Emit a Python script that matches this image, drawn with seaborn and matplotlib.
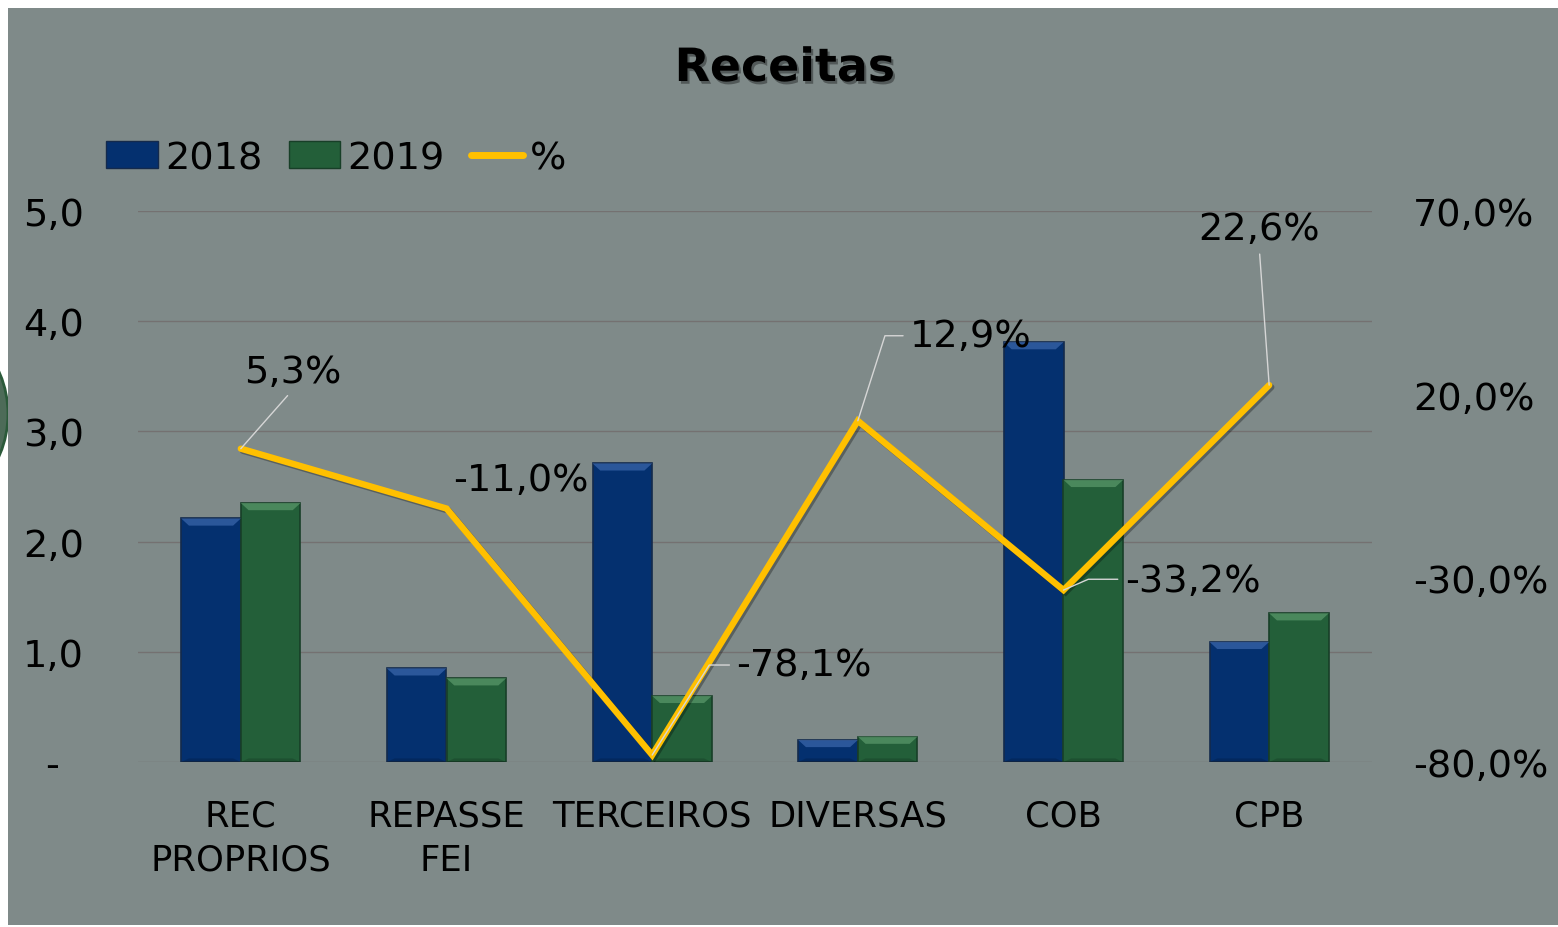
import numpy as np
import pandas as pd
import matplotlib
matplotlib.use("Agg")
import matplotlib.pyplot as plt
import matplotlib.patheffects as pe
from matplotlib.patches import Patch, Polygon, Rectangle, Circle
from matplotlib.lines import Line2D
import seaborn as sns

# chart data
categories = ["REC\nPROPRIOS", "REPASSE\nFEI", "TERCEIROS", "DIVERSAS", "COB", "CPB"]
years = ["2018", "2019"]
values_2018 = [2.21, 0.85, 2.71, 0.20, 3.81, 1.09]
values_2019 = [2.35, 0.76, 0.60, 0.23, 2.56, 1.35]
pct_change = [5.3, -11.0, -78.1, 12.9, -33.2, 22.6]
left_ticks = [0, 1, 2, 3, 4, 5]
left_labels = ["-  ", "1,0", "2,0", "3,0", "4,0", "5,0"]
right_ticks = [-80, -30, 20, 70]
right_labels = ["-80,0%", "-30,0%", "20,0%", "70,0%"]

# colours
bg = "#7f8a89"
bar_colors = {"2018": "#04306f", "2019": "#235f39"}
bar_edges = {"2018": "#142a4c", "2019": "#183f28"}
bar_light = {"2018": "#3d68ad", "2019": "#5c9a6c"}
line_color = "#FFC000"

df = pd.DataFrame({
    "category": categories * 2,
    "year": [years[0]] * len(categories) + [years[1]] * len(categories),
    "value": values_2018 + values_2019,
})

fig = plt.figure(figsize=(15.58, 9.28), dpi=100, facecolor="white")
W, H = 1558, 928

# grey panel and the round shape peeking in on the left
fig.patches.append(Circle((-96, H - 415), 104, transform=None, facecolor="#4d6b58",
                          edgecolor="#2b5a3a", lw=2, zorder=-3))
fig.patches.append(Rectangle((8 / W, 2 / H), 1, (H - 11) / H, transform=fig.transFigure,
                             facecolor=bg, edgecolor="none", zorder=-1))

ax = fig.add_axes([138 / W, 1 - 763 / H, (1372 - 138) / W, (763 - 212) / H])
ax.set_facecolor("none")

sns.barplot(data=df, x="category", y="value", hue="year", order=categories,
            hue_order=years, palette=bar_colors, width=0.58, saturation=1,
            legend=False, ax=ax)

# bevel look on each bar
for cont, yr in zip(ax.containers, years):
    for bar in cont:
        bar.set_edgecolor(bar_edges[yr])
        bar.set_linewidth(1.2)
        x0, w, h = bar.get_x(), bar.get_width(), bar.get_height()
        bw, bh = w * 0.13, 0.065
        ax.add_patch(Polygon([(x0, h), (x0 + w, h), (x0 + w - bw, h - bh), (x0 + bw, h - bh)],
                             closed=True, facecolor=bar_light[yr], edgecolor="none",
                             alpha=0.7, zorder=bar.get_zorder() + 0.1))
        ax.add_patch(Polygon([(x0, 0), (x0 + w, 0), (x0 + w - bw, bh * 0.5), (x0 + bw, bh * 0.5)],
                             closed=True, facecolor="black", edgecolor="none",
                             alpha=0.15, zorder=bar.get_zorder() + 0.1))

ax.set_ylim(0, 5)
ax.set_yticks(left_ticks)
ax.set_yticklabels(left_labels)
ax.set_xlim(-0.5, len(categories) - 0.5)
ax.set_xlabel("")
ax.set_ylabel("")
ax.yaxis.grid(True, color="#747171", lw=1)
ax.xaxis.grid(False)
ax.set_axisbelow(True)
ax.tick_params(axis="y", length=0, pad=39, labelsize=27.5, labelcolor="black")
ax.tick_params(axis="x", length=0, pad=26, labelsize=25.5, labelcolor="black")
for t in ax.get_xticklabels():
    t.set_linespacing(1.4)
    t.set_multialignment("center")
for s in ax.spines.values():
    s.set_visible(False)

# percentage line on secondary axis
ax2 = ax.twinx()
sns.lineplot(x=np.arange(len(categories)), y=pct_change, ax=ax2, color=line_color,
             lw=4.6, sort=False, solid_capstyle="round", solid_joinstyle="miter",
             path_effects=[pe.SimpleLineShadow(offset=(1.5, -1.5), alpha=0.3), pe.Normal()])
ax2.set_ylim(-80, 70)
ax2.set_yticks(right_ticks)
ax2.set_yticklabels(right_labels)
ax2.set_ylabel("")
ax2.tick_params(axis="y", length=0, pad=29.5, labelsize=27.5, labelcolor="black")
for s in ax2.spines.values():
    s.set_visible(False)
ax.set_xlim(-0.5, len(categories) - 0.5)

# data labels: offset (points), leader start on text box, connection style
label_layout = [
    ((37.4, 48.2), (0.5, 0.0), "arc3"),
    ((53.3, 13.0), None, None),
    ((109.4, 57.6), (0.0, 0.5), "angle,angleA=0,angleB=57.6,rad=0"),
    ((81.4, 54.0), (0.0, 0.5), "angle,angleA=0,angleB=72.3,rad=0"),
    ((92.9, -0.7), (0.0, 0.55), "angle,angleA=0,angleB=23.6,rad=0"),
    ((-7.2, 105.1), (0.5, 0.0), "arc3"),
]
for i, (v, (off, relpos, conn)) in enumerate(zip(pct_change, label_layout)):
    txt = f"{v:.1f}%".replace(".", ",")
    kw = {}
    if relpos is not None:
        kw["arrowprops"] = dict(arrowstyle="-", color="#d6d6d6", lw=1, shrinkA=3,
                                shrinkB=0, relpos=relpos, connectionstyle=conn)
    ax2.annotate(txt, xy=(i, v), xytext=off, textcoords="offset points",
                 ha="center", va="baseline", fontsize=27.5, color="black", **kw)

# legend
handles = [
    Patch(facecolor=bar_colors["2018"], edgecolor=bar_edges["2018"], label="2018"),
    Patch(facecolor=bar_colors["2019"], edgecolor=bar_edges["2019"], label="2019"),
    Line2D([0], [0], color=line_color, lw=5, solid_capstyle="round", label="%"),
]
fig.legend(handles=handles, loc="center left", bbox_to_anchor=(106 / W, 1 - 159 / H),
           ncol=3, frameon=False, fontsize=27.5, handlelength=1.35, handleheight=0.71,
           handletextpad=0.2, columnspacing=0.68, borderpad=0, borderaxespad=0)

# title
fig.text(785 / W, 1 - 82 / H, "Receitas", ha="center", va="baseline", fontsize=33,
         fontweight="bold", color="black",
         path_effects=[pe.withSimplePatchShadow(offset=(1.5, -2), shadow_rgbFace="black", alpha=0.35)])

fig.savefig("out.png", dpi=100, facecolor=fig.get_facecolor())
